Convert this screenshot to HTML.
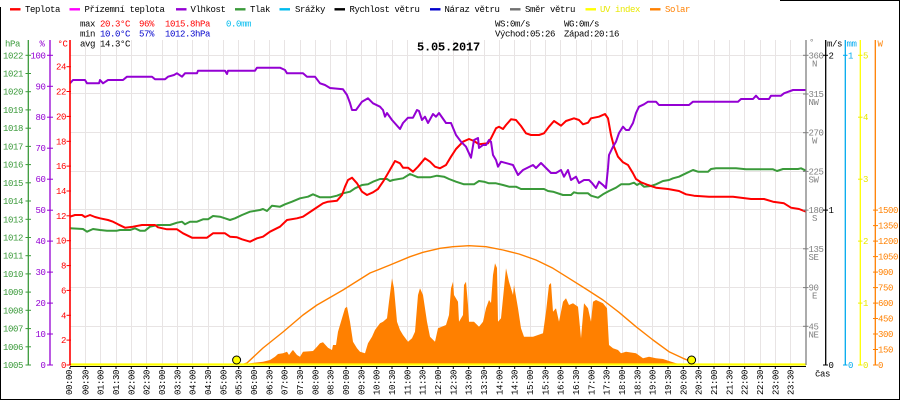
<!DOCTYPE html>
<html><head><meta charset="utf-8"><style>
html,body{margin:0;padding:0;background:#fff;}
svg{display:block;}
text{font-family:"Liberation Mono",monospace;font-size:9px;letter-spacing:-0.4px;}
</style></head><body>
<svg width="900" height="400" viewBox="0 0 900 400" xmlns="http://www.w3.org/2000/svg">
<rect x="0" y="0" width="900" height="400" fill="#fff"/>
<!-- border -->
<g stroke="#000" stroke-width="1" fill="none">
<line x1="780" y1="0.5" x2="900" y2="0.5"/>
<line x1="899.5" y1="0" x2="899.5" y2="400"/>
<line x1="0" y1="399.5" x2="900" y2="399.5"/>
<line x1="0.5" y1="7" x2="0.5" y2="400"/>
</g>
<!-- grid -->
<g stroke="#e8e4e4" stroke-width="1">
<line x1="85.5" y1="40" x2="85.5" y2="365"/><line x1="100.5" y1="40" x2="100.5" y2="365"/><line x1="116.5" y1="40" x2="116.5" y2="365"/><line x1="131.5" y1="40" x2="131.5" y2="365"/><line x1="146.5" y1="40" x2="146.5" y2="365"/><line x1="162.5" y1="40" x2="162.5" y2="365"/><line x1="177.5" y1="40" x2="177.5" y2="365"/><line x1="192.5" y1="40" x2="192.5" y2="365"/><line x1="208.5" y1="40" x2="208.5" y2="365"/><line x1="223.5" y1="40" x2="223.5" y2="365"/><line x1="238.5" y1="40" x2="238.5" y2="365"/><line x1="254.5" y1="40" x2="254.5" y2="365"/><line x1="269.5" y1="40" x2="269.5" y2="365"/><line x1="284.5" y1="40" x2="284.5" y2="365"/><line x1="300.5" y1="40" x2="300.5" y2="365"/><line x1="315.5" y1="40" x2="315.5" y2="365"/><line x1="330.5" y1="40" x2="330.5" y2="365"/><line x1="346.5" y1="40" x2="346.5" y2="365"/><line x1="361.5" y1="40" x2="361.5" y2="365"/><line x1="376.5" y1="40" x2="376.5" y2="365"/><line x1="392.5" y1="40" x2="392.5" y2="365"/><line x1="407.5" y1="40" x2="407.5" y2="365"/><line x1="422.5" y1="40" x2="422.5" y2="365"/><line x1="438.5" y1="40" x2="438.5" y2="365"/><line x1="453.5" y1="40" x2="453.5" y2="365"/><line x1="468.5" y1="40" x2="468.5" y2="365"/><line x1="484.5" y1="40" x2="484.5" y2="365"/><line x1="499.5" y1="40" x2="499.5" y2="365"/><line x1="514.5" y1="40" x2="514.5" y2="365"/><line x1="530.5" y1="40" x2="530.5" y2="365"/><line x1="545.5" y1="40" x2="545.5" y2="365"/><line x1="560.5" y1="40" x2="560.5" y2="365"/><line x1="576.5" y1="40" x2="576.5" y2="365"/><line x1="591.5" y1="40" x2="591.5" y2="365"/><line x1="606.5" y1="40" x2="606.5" y2="365"/><line x1="622.5" y1="40" x2="622.5" y2="365"/><line x1="637.5" y1="40" x2="637.5" y2="365"/><line x1="652.5" y1="40" x2="652.5" y2="365"/><line x1="668.5" y1="40" x2="668.5" y2="365"/><line x1="683.5" y1="40" x2="683.5" y2="365"/><line x1="698.5" y1="40" x2="698.5" y2="365"/><line x1="714.5" y1="40" x2="714.5" y2="365"/><line x1="729.5" y1="40" x2="729.5" y2="365"/><line x1="744.5" y1="40" x2="744.5" y2="365"/><line x1="760.5" y1="40" x2="760.5" y2="365"/><line x1="775.5" y1="40" x2="775.5" y2="365"/><line x1="790.5" y1="40" x2="790.5" y2="365"/>
<line x1="70" y1="55.5" x2="806" y2="55.5"/><line x1="70" y1="93.5" x2="806" y2="93.5"/><line x1="70" y1="132.5" x2="806" y2="132.5"/><line x1="70" y1="171.5" x2="806" y2="171.5"/><line x1="70" y1="209.5" x2="806" y2="209.5"/><line x1="70" y1="248.5" x2="806" y2="248.5"/><line x1="70" y1="287.5" x2="806" y2="287.5"/><line x1="70" y1="326.5" x2="806" y2="326.5"/>
</g>
<!-- solar fill -->
<polygon fill="#ff8000" points="240,365 250,363.3 263,361.7 270,360 275,356.7 278,354 283,353.3 287,351.7 289,355 292,351 293,350 297,355 300,356.7 303,351.7 313,351 317,346.7 320,343.3 323,342.3 328,347.7 332,350 333,345 336,345 338,331.7 342,318.3 345,308.3 347,306.7 350,321.7 353,341.7 357,348.3 360,351.7 365,353.3 368,343.3 372,336.7 375,330 380,323.3 383,321.7 387,318.3 389,301.7 392,278.3 394,288.3 397,321.7 400,330 403,335 408,341.7 412,338.3 415,331.7 418,295 420,288.3 423,295 427,321.7 430,336.7 435,341.7 438,328.3 446,325 449,315 451,288.3 453,281.7 454,295 458,301.7 459,321.7 463,315 464,285 466,281.7 468,305 469,321.7 474,321.7 479,326.7 483,321.7 486,308.3 489,300 491,303 493,275 495,263.3 497,268 498,321.7 501,318.3 504,288.3 506,268.3 509,281.7 513,295 514,285 518,308.3 521,328.3 524,336.7 533,336.7 543,333.3 546,311.7 549,285 551,283 553,311.7 556,308.3 559,321.7 563,301.7 566,298.3 569,305 573,303.3 578,306.7 581,338.3 584,303.3 588,308.3 591,321.7 593,301.7 596,300 603,303.3 607,308.3 609,345 613,348.3 618,350 621,353.3 626,351.7 636,353.3 643,358.3 649,356.7 656,358.3 663,359 669,361 676,363.3 683,364.3 689,365"/>
<!-- theoretical solar curve -->
<polyline fill="none" stroke="#ff8000" stroke-width="1.4" stroke-linejoin="round" points="241,365 247,363 263,348 283,332 303,315 317,305 343,290 370,273 390,265 410,256.7 423,252.3 440,248.3 453,246.7 469,245.7 486,246.7 503,250 519,254 536,260 553,268.3 569,278.3 586,289 603,300 619,312.3 636,326.7 653,340 669,351.7 683,358.3 692,362"/>
<!-- pressure -->
<polyline fill="none" stroke="#3a9a3a" stroke-width="2" stroke-linejoin="round" points="70,228.3 83,229 87,231.7 93,229 100,230 107,230.7 117,230.7 120,230 130,230 135,228.3 140,230.7 145,230.7 150,226.7 158,225 170,225 177,222.7 182,221.7 185,224.3 190,221.7 197,221.7 203,219.3 208,219.3 213,216 220,216.7 225,218.3 230,220 235,218.3 242,215 250,211.7 260,210 263,209 267,211 272,205.7 280,206.7 285,204.3 292,201.7 300,198.3 308,196.7 313,194.3 320,197.3 330,197.3 337,195.7 343,193.3 350,191.7 355,188.3 362,185 368,184.3 373,181.7 380,179 387,179 390,181 393,180 403,178.3 410,174 418,177.3 430,177.3 437,175.7 444,176.7 449,179 456,181.7 464,184.3 474,184.3 479,181 484,181.7 489,183.3 496,183.3 503,185 509,186.7 516,186.7 521,189 544,189 548,191 553,191.7 563,195 571,195 574,192.3 578,193.3 588,193.3 591,195.7 598,197.7 603,194.3 609,191 616,187.7 621,184.3 629,184.3 634,182.7 637,185 640,183.3 644,186.7 651,186 656,184.3 663,181 669,180 673,178.3 679,176.7 686,173.3 693,170 698,171.7 708,171.7 711,169 716,168.3 736,168.3 746,169.3 773,169.3 777,171 783,169 798,169 801,168.3 806,170.7"/>
<!-- temperature -->
<polyline fill="none" stroke="#ff0000" stroke-width="2" stroke-linejoin="round" points="70,216.7 75,215 82,215 85,217 90,215 95,217 100,218.3 108,220 113,221.7 118,224.3 125,227.7 133,226.7 142,225 155,225 158,227.3 167,229.3 177,229.3 183,233.3 192,237.7 207,237.7 213,233.3 225,233.3 230,236.7 237,237.3 242,239.3 250,241.7 257,238.3 263,236.7 270,231.7 280,226.7 287,220 297,218.3 303,216.7 313,210 323,203.3 328,201.7 337,200.7 342,195 345,186.7 348,180 352,177.7 357,183.3 362,191.7 367,195 373,192.3 378,189 383,181.7 388,173.3 395,161 400,163.3 403,167.7 408,167.7 413,171.7 418,166.7 425,158.3 430,161.7 435,166.7 440,168.3 446,165 451,156.7 456,149 463,141.7 469,139 474,141 479,144.3 488,143.3 491,138.3 496,128.3 499,126.7 503,129 506,125 511,119.3 516,120 521,126 526,133.3 531,135 539,135 544,133.3 549,126.7 554,121 561,125.7 566,121 574,118.3 579,120 583,124.3 588,122.7 591,118.3 599,116.7 605,114 608,118.3 611,135 614,146.7 618,156.7 623,162.3 628,165 633,173.3 636,179 641,182.3 648,185 656,187.7 668,189 679,191 686,194.3 694,195.7 709,196.7 733,196.7 751,199 764,199 773,201.7 784,203.3 791,207.7 799,209 806,211.7"/>
<!-- humidity -->
<polyline fill="none" stroke="#9400d3" stroke-width="2" stroke-linejoin="round" points="70,83.3 73,80 85,80 87,83.3 99,83.3 100,80 103,83.3 108,80 123,80 127,76.7 152,76.7 155,79.3 165,79.3 168,76.7 174,75 177,73.3 182,76.7 185,73.3 197,73.3 198,70.7 225,70.7 227,74 228,70.7 255,70.7 257,67.7 280,67.7 285,70 287,73.3 303,73.3 307,76.7 315,76.7 320,83.3 325,85 330,88 343,89.3 347,95 350,103 352,110 356,110 362,101.7 368,98.3 373,103.3 380,106.7 383,110 385,116.7 387,113 392,120 400,129 403,123 408,117.7 413,117.7 417,110 419,111 422,120 425,116.7 428,123 433,114 436,116.7 439,113 446,123 451,123 456,135 461,141.7 466,146.7 471,157.7 474,140 478,138 479,148 483,145 486,145 489,140 491,141.7 493,155 496,160 498,166.7 501,161.7 513,165 518,175 523,170 533,165 536,168 541,163 546,168 551,173 556,173 561,170 564,176.7 568,170 571,180 576,176.7 579,183 584,180 589,180 592,183 596,188 599,181.7 603,185 606,188 608,168 609,155 613,146.7 616,141.7 619,133 623,126.7 626,130 629,130 633,123 636,113 639,106.7 644,104.3 648,101.7 656,101.7 659,105 689,105 693,101.7 738,101.7 741,99 753,99 756,95.7 759,99 769,99 771,95.7 781,95.7 784,93.3 793,90 806,90"/>
<!-- bottom baseline -->
<line x1="70" y1="366.5" x2="806" y2="366.5" stroke="#000" stroke-width="1"/>
<line x1="70" y1="364.5" x2="806" y2="364.5" stroke="#ffff00" stroke-width="2.2"/>
<!-- sunrise/sunset -->
<circle cx="236.6" cy="360" r="4" fill="#ffff00" stroke="#000" stroke-width="1"/>
<circle cx="691.6" cy="360" r="4" fill="#ffff00" stroke="#000" stroke-width="1"/>
<!-- axes lines -->
<g stroke-width="1.3">
<line x1="28.3" y1="40" x2="28.3" y2="365" stroke="#3a9a3a"/>
<line x1="50" y1="40" x2="50" y2="365" stroke="#9400d3"/>
<line x1="70" y1="40" x2="70" y2="365" stroke="#ff0000" stroke-width="1.6"/>
<line x1="806" y1="40" x2="806" y2="365" stroke="#808080"/>
<line x1="825.7" y1="40" x2="825.7" y2="365" stroke="#000"/>
<line x1="845.3" y1="40" x2="845.3" y2="365" stroke="#00aaee"/>
<line x1="860.3" y1="40" x2="860.3" y2="365" stroke="#ffff00"/>
<line x1="875.3" y1="40" x2="875.3" y2="365" stroke="#ff8000"/>
</g>
<!-- hPa ticks and labels -->
<g stroke="#3a9a3a" stroke-width="1">
<line x1="25.5" x2="31" y1="365" y2="365"/><line x1="25.5" x2="31" y1="346.8" y2="346.8"/><line x1="25.5" x2="31" y1="328.6" y2="328.6"/><line x1="25.5" x2="31" y1="310.3" y2="310.3"/><line x1="25.5" x2="31" y1="292.1" y2="292.1"/><line x1="25.5" x2="31" y1="273.9" y2="273.9"/><line x1="25.5" x2="31" y1="255.7" y2="255.7"/><line x1="25.5" x2="31" y1="237.5" y2="237.5"/><line x1="25.5" x2="31" y1="219.3" y2="219.3"/><line x1="25.5" x2="31" y1="201" y2="201"/><line x1="25.5" x2="31" y1="182.8" y2="182.8"/><line x1="25.5" x2="31" y1="164.6" y2="164.6"/><line x1="25.5" x2="31" y1="146.4" y2="146.4"/><line x1="25.5" x2="31" y1="128.2" y2="128.2"/><line x1="25.5" x2="31" y1="109.9" y2="109.9"/><line x1="25.5" x2="31" y1="91.7" y2="91.7"/><line x1="25.5" x2="31" y1="73.5" y2="73.5"/><line x1="25.5" x2="31" y1="55.3" y2="55.3"/>
</g>
<g fill="#3a9a3a" text-anchor="end">
<text x="23" y="368">1005</text><text x="23" y="349.8">1006</text><text x="23" y="331.6">1007</text><text x="23" y="313.3">1008</text><text x="23" y="295.1">1009</text><text x="23" y="276.9">1010</text><text x="23" y="258.7">1011</text><text x="23" y="240.5">1012</text><text x="23" y="222.3">1013</text><text x="23" y="204">1014</text><text x="23" y="185.8">1015</text><text x="23" y="167.6">1016</text><text x="23" y="149.4">1017</text><text x="23" y="131.2">1018</text><text x="23" y="112.9">1019</text><text x="23" y="94.7">1020</text><text x="23" y="76.5">1021</text><text x="23" y="58.3">1022</text>
</g>
<text x="5" y="46.5" fill="#3a9a3a">hPa</text>
<!-- % ticks -->
<g stroke="#9400d3" stroke-width="1">
<line x1="47" x2="53" y1="365" y2="365"/><line x1="47" x2="53" y1="334" y2="334"/><line x1="47" x2="53" y1="303.1" y2="303.1"/><line x1="47" x2="53" y1="272.1" y2="272.1"/><line x1="47" x2="53" y1="241.1" y2="241.1"/><line x1="47" x2="53" y1="210.2" y2="210.2"/><line x1="47" x2="53" y1="179.2" y2="179.2"/><line x1="47" x2="53" y1="148.2" y2="148.2"/><line x1="47" x2="53" y1="117.2" y2="117.2"/><line x1="47" x2="53" y1="86.3" y2="86.3"/><line x1="47" x2="53" y1="55.3" y2="55.3"/>
</g>
<g fill="#9400d3" text-anchor="end">
<text x="45.5" y="368">0</text><text x="45.5" y="337">10</text><text x="45.5" y="306.1">20</text><text x="45.5" y="275.1">30</text><text x="45.5" y="244.1">40</text><text x="45.5" y="213.2">50</text><text x="45.5" y="182.2">60</text><text x="45.5" y="151.2">70</text><text x="45.5" y="120.2">80</text><text x="45.5" y="89.3">90</text><text x="45.5" y="58.3">100</text>
</g>
<text x="39.5" y="46.5" fill="#9400d3">%</text>
<!-- °C ticks -->
<g stroke="#ff0000" stroke-width="1">
<line x1="66.5" x2="71" y1="365" y2="365"/><line x1="66.5" x2="71" y1="340.1" y2="340.1"/><line x1="66.5" x2="71" y1="315.3" y2="315.3"/><line x1="66.5" x2="71" y1="290.4" y2="290.4"/><line x1="66.5" x2="71" y1="265.6" y2="265.6"/><line x1="66.5" x2="71" y1="240.7" y2="240.7"/><line x1="66.5" x2="71" y1="215.8" y2="215.8"/><line x1="66.5" x2="71" y1="191" y2="191"/><line x1="66.5" x2="71" y1="166.1" y2="166.1"/><line x1="66.5" x2="71" y1="141.3" y2="141.3"/><line x1="66.5" x2="71" y1="116.4" y2="116.4"/><line x1="66.5" x2="71" y1="91.5" y2="91.5"/><line x1="66.5" x2="71" y1="66.7" y2="66.7"/>
</g>
<g fill="#ff0000" text-anchor="end">
<text x="66" y="368">0</text><text x="66" y="343.1">2</text><text x="66" y="318.3">4</text><text x="66" y="293.4">6</text><text x="66" y="268.6">8</text><text x="66" y="243.7">10</text><text x="66" y="218.8">12</text><text x="66" y="194">14</text><text x="66" y="169.1">16</text><text x="66" y="144.3">18</text><text x="66" y="119.4">20</text><text x="66" y="94.5">22</text><text x="66" y="69.7">24</text>
</g>
<text x="57.5" y="46.5" fill="#ff0000">°C</text>
<!-- direction axis -->
<g stroke="#808080" stroke-width="1">
<line x1="803" x2="808.5" y1="55.3" y2="55.3"/><line x1="803" x2="808.5" y1="94" y2="94"/><line x1="803" x2="808.5" y1="132.7" y2="132.7"/><line x1="803" x2="808.5" y1="171.4" y2="171.4"/><line x1="803" x2="808.5" y1="210.1" y2="210.1"/><line x1="803" x2="808.5" y1="248.8" y2="248.8"/><line x1="803" x2="808.5" y1="287.6" y2="287.6"/><line x1="803" x2="808.5" y1="326.3" y2="326.3"/>
</g>
<g fill="#808080">
<text x="808.5" y="58.3">360</text><text x="808.5" y="97">315</text><text x="808.5" y="135.7">270</text><text x="808.5" y="174.4">225</text><text x="808.5" y="213.1">180</text><text x="808.5" y="251.8">135</text><text x="808.5" y="290.6">90</text><text x="808.5" y="329.3">45</text>
</g>
<g fill="#808080" text-anchor="middle">
<text x="814.5" y="66.3">N</text><text x="813.5" y="105">NW</text><text x="814.5" y="143.7">W</text><text x="813.5" y="182.4">SW</text><text x="814.5" y="221.1">S</text><text x="813.5" y="259.8">SE</text><text x="814.5" y="298.6">E</text><text x="813.5" y="337.3">NE</text>
</g>
<text x="809" y="45" fill="#808080">°</text>
<!-- m/s axis -->
<g stroke="#000" stroke-width="1">
<line x1="823" x2="828" y1="55.3" y2="55.3"/><line x1="823" x2="828" y1="210.1" y2="210.1"/><line x1="823" x2="828" y1="365" y2="365"/>
</g>
<g fill="#000">
<text x="828.5" y="58.3">2</text><text x="828.5" y="213.1">1</text><text x="828.5" y="368">0</text>
<text x="827" y="46.5">m/s</text>
<text x="815" y="376.5">čas</text>
</g>
<!-- mm axis -->
<g stroke="#00aaee" stroke-width="1">
<line x1="843" x2="847.5" y1="55.3" y2="55.3"/><line x1="843" x2="847.5" y1="365" y2="365"/>
</g>
<g fill="#00aaee">
<text x="848" y="58.3">1</text><text x="848" y="368">0</text><text x="846.5" y="46.5">mm</text>
</g>
<!-- UV axis -->
<g stroke="#f0f000" stroke-width="1">
<line x1="858" x2="862.5" y1="55.3" y2="55.3"/><line x1="858" x2="862.5" y1="117.2" y2="117.2"/><line x1="858" x2="862.5" y1="179.2" y2="179.2"/><line x1="858" x2="862.5" y1="241.1" y2="241.1"/><line x1="858" x2="862.5" y1="303.1" y2="303.1"/><line x1="858" x2="862.5" y1="365" y2="365"/>
</g>
<g fill="#e8e800">
<text x="863" y="58.3">5</text><text x="863" y="120.2">4</text><text x="863" y="182.2">3</text><text x="863" y="244.1">2</text><text x="863" y="306.1">1</text><text x="863" y="368">0</text>
</g>
<!-- W axis -->
<g stroke="#ff8000" stroke-width="1">
<line x1="873" x2="878" y1="365" y2="365"/><line x1="873" x2="878" y1="349.5" y2="349.5"/><line x1="873" x2="878" y1="334" y2="334"/><line x1="873" x2="878" y1="318.5" y2="318.5"/><line x1="873" x2="878" y1="303.1" y2="303.1"/><line x1="873" x2="878" y1="287.6" y2="287.6"/><line x1="873" x2="878" y1="272.1" y2="272.1"/><line x1="873" x2="878" y1="256.6" y2="256.6"/><line x1="873" x2="878" y1="241.1" y2="241.1"/><line x1="873" x2="878" y1="225.6" y2="225.6"/><line x1="873" x2="878" y1="210.1" y2="210.1"/>
</g>
<g fill="#ff8000">
<text x="878" y="368">0</text><text x="878" y="352.5">150</text><text x="878" y="337">300</text><text x="878" y="321.5">450</text><text x="878" y="306.1">600</text><text x="878" y="290.6">750</text><text x="878" y="275.1">900</text><text x="878" y="259.6">1050</text><text x="878" y="244.1">1200</text><text x="878" y="228.6">1350</text><text x="878" y="213.1">1500</text>
<text x="877.5" y="46.5">W</text>
</g>
<!-- x ticks -->
<g stroke="#000" stroke-width="1">
<line x1="70" x2="70" y1="367" y2="369"/><line x1="85.3" x2="85.3" y1="367" y2="369"/><line x1="100.7" x2="100.7" y1="367" y2="369"/><line x1="116" x2="116" y1="367" y2="369"/><line x1="131.3" x2="131.3" y1="367" y2="369"/><line x1="146.7" x2="146.7" y1="367" y2="369"/><line x1="162" x2="162" y1="367" y2="369"/><line x1="177.3" x2="177.3" y1="367" y2="369"/><line x1="192.7" x2="192.7" y1="367" y2="369"/><line x1="208" x2="208" y1="367" y2="369"/><line x1="223.3" x2="223.3" y1="367" y2="369"/><line x1="238.7" x2="238.7" y1="367" y2="369"/><line x1="254" x2="254" y1="367" y2="369"/><line x1="269.3" x2="269.3" y1="367" y2="369"/><line x1="284.7" x2="284.7" y1="367" y2="369"/><line x1="300" x2="300" y1="367" y2="369"/><line x1="315.3" x2="315.3" y1="367" y2="369"/><line x1="330.7" x2="330.7" y1="367" y2="369"/><line x1="346" x2="346" y1="367" y2="369"/><line x1="361.3" x2="361.3" y1="367" y2="369"/><line x1="376.7" x2="376.7" y1="367" y2="369"/><line x1="392" x2="392" y1="367" y2="369"/><line x1="407.3" x2="407.3" y1="367" y2="369"/><line x1="422.7" x2="422.7" y1="367" y2="369"/><line x1="438" x2="438" y1="367" y2="369"/><line x1="453.3" x2="453.3" y1="367" y2="369"/><line x1="468.7" x2="468.7" y1="367" y2="369"/><line x1="484" x2="484" y1="367" y2="369"/><line x1="499.3" x2="499.3" y1="367" y2="369"/><line x1="514.7" x2="514.7" y1="367" y2="369"/><line x1="530" x2="530" y1="367" y2="369"/><line x1="545.3" x2="545.3" y1="367" y2="369"/><line x1="560.7" x2="560.7" y1="367" y2="369"/><line x1="576" x2="576" y1="367" y2="369"/><line x1="591.3" x2="591.3" y1="367" y2="369"/><line x1="606.7" x2="606.7" y1="367" y2="369"/><line x1="622" x2="622" y1="367" y2="369"/><line x1="637.3" x2="637.3" y1="367" y2="369"/><line x1="652.7" x2="652.7" y1="367" y2="369"/><line x1="668" x2="668" y1="367" y2="369"/><line x1="683.3" x2="683.3" y1="367" y2="369"/><line x1="698.7" x2="698.7" y1="367" y2="369"/><line x1="714" x2="714" y1="367" y2="369"/><line x1="729.3" x2="729.3" y1="367" y2="369"/><line x1="744.7" x2="744.7" y1="367" y2="369"/><line x1="760" x2="760" y1="367" y2="369"/><line x1="775.3" x2="775.3" y1="367" y2="369"/><line x1="790.7" x2="790.7" y1="367" y2="369"/>
</g>
<!-- x labels -->
<g fill="#000" style="letter-spacing:-0.5px">
<text transform="translate(72,395) rotate(-90)">00:00</text>
<text transform="translate(88.3,395) rotate(-90)">00:30</text>
<text transform="translate(103.7,395) rotate(-90)">01:00</text>
<text transform="translate(119,395) rotate(-90)">01:30</text>
<text transform="translate(134.3,395) rotate(-90)">02:00</text>
<text transform="translate(149.7,395) rotate(-90)">02:30</text>
<text transform="translate(165,395) rotate(-90)">03:00</text>
<text transform="translate(180.3,395) rotate(-90)">03:30</text>
<text transform="translate(195.7,395) rotate(-90)">04:00</text>
<text transform="translate(211,395) rotate(-90)">04:30</text>
<text transform="translate(226.3,395) rotate(-90)">05:00</text>
<text transform="translate(241.7,395) rotate(-90)">05:30</text>
<text transform="translate(257,395) rotate(-90)">06:00</text>
<text transform="translate(272.3,395) rotate(-90)">06:30</text>
<text transform="translate(287.7,395) rotate(-90)">07:00</text>
<text transform="translate(303,395) rotate(-90)">07:30</text>
<text transform="translate(318.3,395) rotate(-90)">08:00</text>
<text transform="translate(333.7,395) rotate(-90)">08:30</text>
<text transform="translate(349,395) rotate(-90)">09:00</text>
<text transform="translate(364.3,395) rotate(-90)">09:30</text>
<text transform="translate(379.7,395) rotate(-90)">10:00</text>
<text transform="translate(395,395) rotate(-90)">10:30</text>
<text transform="translate(410.3,395) rotate(-90)">11:00</text>
<text transform="translate(425.7,395) rotate(-90)">11:30</text>
<text transform="translate(441,395) rotate(-90)">12:00</text>
<text transform="translate(456.3,395) rotate(-90)">12:30</text>
<text transform="translate(471.7,395) rotate(-90)">13:00</text>
<text transform="translate(487,395) rotate(-90)">13:30</text>
<text transform="translate(502.3,395) rotate(-90)">14:00</text>
<text transform="translate(517.7,395) rotate(-90)">14:30</text>
<text transform="translate(533,395) rotate(-90)">15:00</text>
<text transform="translate(548.3,395) rotate(-90)">15:30</text>
<text transform="translate(563.7,395) rotate(-90)">16:00</text>
<text transform="translate(579,395) rotate(-90)">16:30</text>
<text transform="translate(594.3,395) rotate(-90)">17:00</text>
<text transform="translate(609.7,395) rotate(-90)">17:30</text>
<text transform="translate(625,395) rotate(-90)">18:00</text>
<text transform="translate(640.3,395) rotate(-90)">18:30</text>
<text transform="translate(655.7,395) rotate(-90)">19:00</text>
<text transform="translate(671,395) rotate(-90)">19:30</text>
<text transform="translate(686.3,395) rotate(-90)">20:00</text>
<text transform="translate(701.7,395) rotate(-90)">20:30</text>
<text transform="translate(717,395) rotate(-90)">21:00</text>
<text transform="translate(732.3,395) rotate(-90)">21:30</text>
<text transform="translate(747.7,395) rotate(-90)">22:00</text>
<text transform="translate(763,395) rotate(-90)">22:30</text>
<text transform="translate(778.3,395) rotate(-90)">23:00</text>
<text transform="translate(793.7,395) rotate(-90)">23:30</text>
</g>
<!-- legend -->
<g stroke-width="2.4">
<line x1="10" y1="9.3" x2="20.5" y2="9.3" stroke="#ff0000"/>
<line x1="69.5" y1="9.3" x2="80" y2="9.3" stroke="#ff00ff"/>
<line x1="176" y1="9.3" x2="186.5" y2="9.3" stroke="#9400d3"/>
<line x1="235" y1="9.3" x2="245.5" y2="9.3" stroke="#3a9a3a"/>
<line x1="279.5" y1="9.3" x2="290" y2="9.3" stroke="#00bbee"/>
<line x1="334.5" y1="9.3" x2="345" y2="9.3" stroke="#000"/>
<line x1="430" y1="9.3" x2="440.5" y2="9.3" stroke="#0000cc"/>
<line x1="510" y1="9.3" x2="520.5" y2="9.3" stroke="#707070"/>
<line x1="585.5" y1="9.3" x2="596" y2="9.3" stroke="#ffff00"/>
<line x1="650" y1="9.3" x2="660.5" y2="9.3" stroke="#ff8000"/>
</g>
<g fill="#000">
<text x="25" y="11.8">Teplota</text>
<text x="84.5" y="11.8">Přízemní teplota</text>
<text x="190.5" y="11.8">Vlhkost</text>
<text x="250" y="11.8">Tlak</text>
<text x="295" y="11.8">Srážky</text>
<text x="349.5" y="11.8">Rychlost větru</text>
<text x="444.5" y="11.8">Náraz větru</text>
<text x="525" y="11.8">Směr větru</text>
</g>
<text x="600" y="11.8" fill="#e8e800">UV index</text>
<text x="665" y="11.8" fill="#ff8000">Solar</text>
<!-- stats -->
<g fill="#000">
<text x="80" y="26.7">max</text>
<text x="80" y="36.7">min</text>
<text x="80" y="46.3">avg</text>
<text x="100" y="46.3">14.3°C</text>
<text x="495" y="26.7">WS:0m/s</text>
<text x="564" y="26.7">WG:0m/s</text>
<text x="495" y="36.7">Východ:05:26</text>
<text x="564" y="36.7">Západ:20:16</text>
</g>
<g fill="#ff0000">
<text x="100" y="26.7">20.3°C</text>
<text x="139" y="26.7">96%</text>
<text x="165" y="26.7">1015.8hPa</text>
</g>
<text x="226" y="26.7" fill="#00bbee">0.0mm</text>
<g fill="#0000cc">
<text x="100" y="36.7">10.0°C</text>
<text x="139" y="36.7">57%</text>
<text x="165" y="36.7">1012.3hPa</text>
</g>
<text x="448.5" y="50.6" text-anchor="middle" style="font-size:12px;font-weight:bold;letter-spacing:-0.2px" fill="#000">5.05.2017</text>
</svg>
</body></html>
